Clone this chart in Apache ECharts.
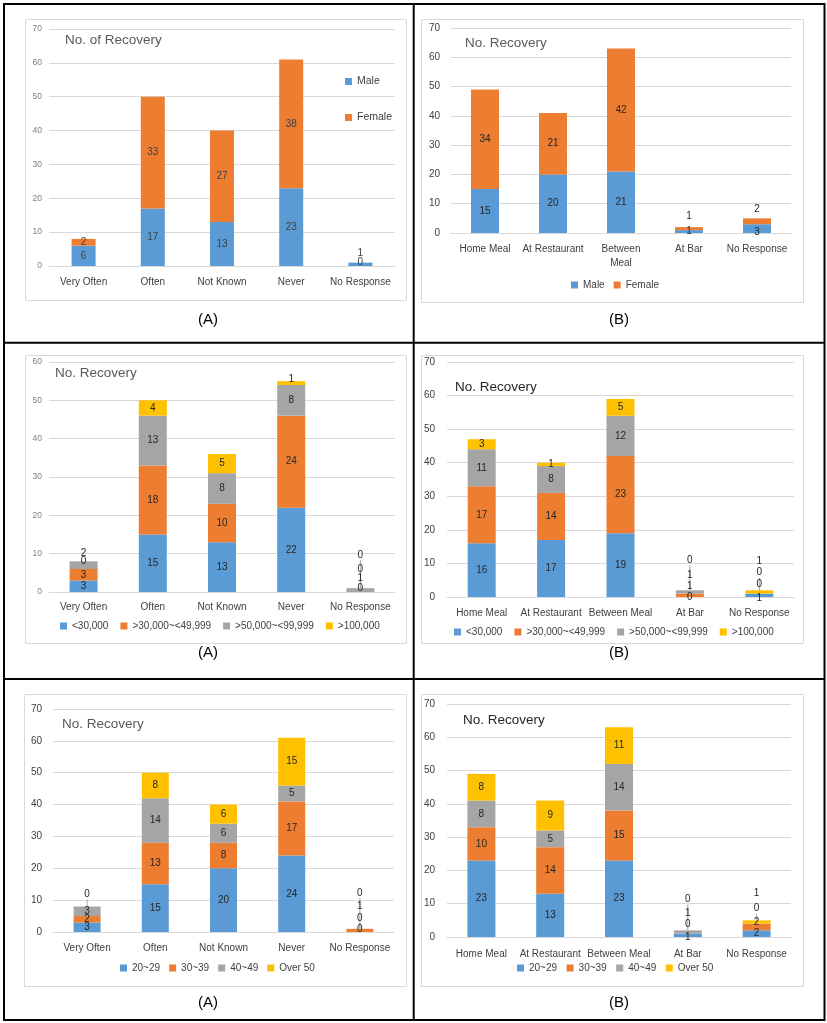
<!DOCTYPE html>
<html><head><meta charset="utf-8">
<script src="https://cdn.jsdelivr.net/npm/echarts@6/dist/echarts.min.js"></script>
<style>html,body{margin:0;padding:0;background:#fff}#c{width:827px;height:1023px}</style>
</head><body><div id="c"></div>
<script>
// ---------- categories & series names ----------
const freqCats = ['Very Often', 'Often', 'Not Known', 'Never', 'No Response'];
const mealCats = ['Home Meal', 'At Restaurant', 'Between Meal', 'At Bar', 'No Response'];
const mealCatsWrapped = ['Home Meal', 'At Restaurant', 'Between\nMeal', 'At Bar', 'No Response'];
const sexNames = ['Male', 'Female'];
const incomeNames = ['<30,000', '>30,000~<49,999', '>50,000~<99,999', '>100,000'];
const ageNames = ['20~29', '30~39', '40~49', 'Over 50'];
const yMaxes = [70, 70, 60, 70, 70, 70];
const yStep = 10;

// ---------- values ----------
// frequency x sex (top A)
const freqMale = [6, 17, 13, 23, 1];
const freqFemale = [2, 33, 27, 38, 0];
// meal x sex (top B)
const mealMale = [15, 20, 21, 1, 3];
const mealFemale = [34, 21, 42, 1, 2];
// frequency x income (middle A)
const freqInc1 = [3, 15, 13, 22, 0];
const freqInc2 = [3, 18, 10, 24, 0];
const freqInc3 = [2, 13, 8, 8, 1];
const freqInc4 = [0, 4, 5, 1, 0];
// meal x income (middle B)
const mealInc1 = [16, 17, 19, 0, 1];
const mealInc2 = [17, 14, 23, 1, 0];
const mealInc3 = [11, 8, 12, 1, 0];
const mealInc4 = [3, 1, 5, 0, 1];
// frequency x age (bottom A)
const freqAge1 = [3, 15, 20, 24, 0];
const freqAge2 = [2, 13, 8, 17, 1];
const freqAge3 = [3, 14, 6, 5, 0];
const freqAge4 = [0, 8, 6, 15, 0];
// meal x age (bottom B)
const mealAge1 = [23, 13, 23, 1, 2];
const mealAge2 = [10, 14, 15, 0, 2];
const mealAge3 = [8, 5, 14, 1, 0];
const mealAge4 = [8, 9, 11, 0, 1];

// ---------- styling / layout ----------
const COLORS = ['#5B9BD5', '#ED7D31', '#A5A5A5', '#FFC000'];
const FONT = '"Liberation Sans", Arial, sans-serif';

// label nudges for tiny segments: key "panel-series-category" -> [dy, showLeaderLine]
const labelNudges = {
  '0-0-4': [-11, false],
  '1-1-3': [-12, false], '1-0-4': [4, false], '1-1-4': [-12, false],
  '2-2-0': [-12, false], '2-3-3': [-4, false],
  '2-0-4': [-4, false], '2-1-4': [-23, true], '2-2-4': [-12, false], '2-3-4': [-33, true],
  '3-1-3': [-9, false], '3-2-3': [-17, false], '3-3-3': [-30, true],
  '3-0-4': [3, false], '3-1-4': [-9, true], '3-2-4': [-21, true], '3-3-4': [-31, false],
  '4-3-0': [-12, true],
  '4-0-4': [-3, false], '4-1-4': [-24, false], '4-2-4': [-11, true], '4-3-4': [-36, true],
  '5-0-3': [2, false], '5-1-3': [-9, true], '5-2-3': [-19, false], '5-3-3': [-31, true],
  '5-1-4': [-5, false], '5-2-4': [-15, true], '5-3-4': [-29, false]
};

const panels = [
  { cats: freqCats, names: sexNames, values: [freqMale, freqFemale],
    grid: { left: 49, top: 29, width: 346, height: 237 }, barWidth: 24,
    yFont: 8.5, yColor: '#7F7F7F', yMargin: 7, xMargin: 9, lblColor: '#404040',
    title: 'No. of Recovery', titlePos: [65, 33], titleColor: '#595959',
    legend: { orient: 'vertical', left: 345, top: 76, itemGap: 25 },
    caption: '(A)', capPos: [208, 320], box: [25, 19, 406, 300] },
  { cats: mealCatsWrapped, names: sexNames, values: [mealMale, mealFemale],
    grid: { left: 451, top: 28, width: 340, height: 205 }, barWidth: 28,
    yFont: 10, yColor: '#404040', yMargin: 11, xMargin: 9, lblColor: '#262626',
    title: 'No. Recovery', titlePos: [465, 36], titleColor: '#595959',
    legend: { orient: 'horizontal', left: 571, top: 280, itemGap: 9 },
    caption: '(B)', capPos: [619, 320], box: [421, 19, 803, 302] },
  { cats: freqCats, names: incomeNames, values: [freqInc1, freqInc2, freqInc3, freqInc4],
    grid: { left: 49, top: 362, width: 346, height: 230 }, barWidth: 28,
    yFont: 8.5, yColor: '#7F7F7F', yMargin: 7, xMargin: 8, lblColor: '#262626',
    title: 'No. Recovery', titlePos: [55, 366], titleColor: '#595959',
    legend: { orient: 'horizontal', left: 60, top: 621, itemGap: 12 },
    caption: '(A)', capPos: [208, 653], box: [25, 355, 406, 643] },
  { cats: mealCats, names: incomeNames, values: [mealInc1, mealInc2, mealInc3, mealInc4],
    grid: { left: 447, top: 362, width: 347, height: 235 }, barWidth: 28,
    yFont: 10, yColor: '#404040', yMargin: 12, xMargin: 9, lblColor: '#262626',
    title: 'No. Recovery', titlePos: [455, 380], titleColor: '#262626',
    legend: { orient: 'horizontal', left: 454, top: 627, itemGap: 12 },
    caption: '(B)', capPos: [619, 653], box: [421, 355, 803, 643] },
  { cats: freqCats, names: ageNames, values: [freqAge1, freqAge2, freqAge3, freqAge4],
    grid: { left: 53, top: 709, width: 341, height: 223 }, barWidth: 27,
    yFont: 10, yColor: '#404040', yMargin: 11, xMargin: 9, lblColor: '#262626',
    title: 'No. Recovery', titlePos: [62, 717], titleColor: '#595959',
    legend: { orient: 'horizontal', left: 120, top: 963, itemGap: 9 },
    caption: '(A)', capPos: [208, 1003], box: [24, 694, 406, 986] },
  { cats: mealCats, names: ageNames, values: [mealAge1, mealAge2, mealAge3, mealAge4],
    grid: { left: 447, top: 704, width: 344, height: 233 }, barWidth: 28,
    yFont: 10, yColor: '#404040', yMargin: 12, xMargin: 10, lblColor: '#262626',
    title: 'No. Recovery', titlePos: [463, 713], titleColor: '#262626',
    legend: { orient: 'horizontal', left: 517, top: 963, itemGap: 9.5 },
    caption: '(B)', capPos: [619, 1003], box: [421, 694, 803, 986] }
];

const grids = [], xAxes = [], yAxes = [], series = [], legends = [], titles = [], graphics = [];
const LEADER = { color: '#A6A6A6', width: 1 };

panels.forEach((p, pi) => {
  grids.push(Object.assign({ outerBoundsMode: 'none', containLabel: false }, p.grid));
  xAxes.push({
    type: 'category', gridIndex: pi, data: p.cats,
    axisTick: { show: false },
    axisLine: { show: true, lineStyle: { color: '#D9D9D9', width: 1 } },
    axisLabel: { interval: 0, fontSize: 10, color: '#404040', fontFamily: FONT, margin: p.xMargin, lineHeight: 14 },
    splitLine: { show: false }
  });
  yAxes.push({
    type: 'value', gridIndex: pi, min: 0, max: yMaxes[pi], interval: yStep,
    axisLine: { show: false }, axisTick: { show: false },
    axisLabel: { fontSize: p.yFont, color: p.yColor, fontFamily: FONT, margin: p.yMargin },
    splitLine: { show: true, lineStyle: { color: '#D9D9D9', width: 1 } }
  });
  p.names.forEach((nm, si) => {
    const hasLine = p.cats.some((c, ci) => { const n = labelNudges[pi + '-' + si + '-' + ci]; return n && n[1]; });
    series.push({
      type: 'bar', name: nm, xAxisIndex: pi, yAxisIndex: pi, stack: 'stack' + pi,
      barWidth: p.barWidth,
      itemStyle: { color: COLORS[si] },
      label: { show: true, position: 'inside', fontSize: 10, color: p.lblColor, fontFamily: FONT },
      labelLine: { show: hasLine, lineStyle: LEADER },
      labelLayout: (params) => {
        const n = labelNudges[pi + '-' + si + '-' + params.dataIndex];
        if (!n) return {};
        const r = params.rect;
        return { x: r.x + r.width / 2, y: r.y + r.height / 2 + n[0], align: 'center', verticalAlign: 'middle' };
      },
      emphasis: { disabled: true },
      data: p.values[si].map((v, ci) => {
        const n = labelNudges[pi + '-' + si + '-' + ci];
        if (!hasLine || (n && n[1])) return v;
        return { value: v, labelLine: { show: false } };
      })
    });
  });
  legends.push(Object.assign({
    data: p.names.slice(), icon: 'rect', itemWidth: 7, itemHeight: 7,
    textStyle: { fontSize: p.legend.orient === 'vertical' ? 10.5 : 10, color: '#404040', fontFamily: FONT },
    padding: 0, selectedMode: false
  }, p.legend));
  titles.push({
    text: p.title, left: p.titlePos[0], top: p.titlePos[1], padding: 0,
    textStyle: { fontSize: 13.5, fontWeight: 'normal', color: p.titleColor, fontFamily: FONT }
  });
  const b = p.box;
  graphics.push({
    type: 'rect', z: -10, silent: true,
    shape: { x: b[0] + 0.5, y: b[1] + 0.5, width: b[2] - b[0], height: b[3] - b[1] },
    style: { fill: 'none', stroke: '#D9D9D9', lineWidth: 1 }
  });
  graphics.push({
    type: 'text', silent: true, x: p.capPos[0], y: p.capPos[1],
    style: { text: p.caption, fontSize: 15, fontFamily: FONT, fill: '#000', align: 'center', verticalAlign: 'middle' }
  });
});

// outer frame & dividers
graphics.push({ type: 'rect', silent: true, shape: { x: 4, y: 4, width: 820.5, height: 1016 },
  style: { fill: 'none', stroke: '#000', lineWidth: 2 } });
graphics.push({ type: 'line', silent: true, shape: { x1: 413.7, y1: 4, x2: 413.7, y2: 1020 },
  style: { stroke: '#000', lineWidth: 2 } });
graphics.push({ type: 'line', silent: true, shape: { x1: 4, y1: 342.7, x2: 824.5, y2: 342.7 },
  style: { stroke: '#000', lineWidth: 2 } });
graphics.push({ type: 'line', silent: true, shape: { x1: 4, y1: 679, x2: 824.5, y2: 679 },
  style: { stroke: '#000', lineWidth: 2 } });

const chart = echarts.init(document.getElementById('c'), null, { renderer: 'canvas' });
chart.setOption({
  backgroundColor: '#fff',
  animation: false,
  textStyle: { fontFamily: FONT },
  title: titles,
  legend: legends,
  grid: grids,
  xAxis: xAxes,
  yAxis: yAxes,
  series: series,
  graphic: graphics,
  tooltip: { show: false }
});
</script>
</body></html>
